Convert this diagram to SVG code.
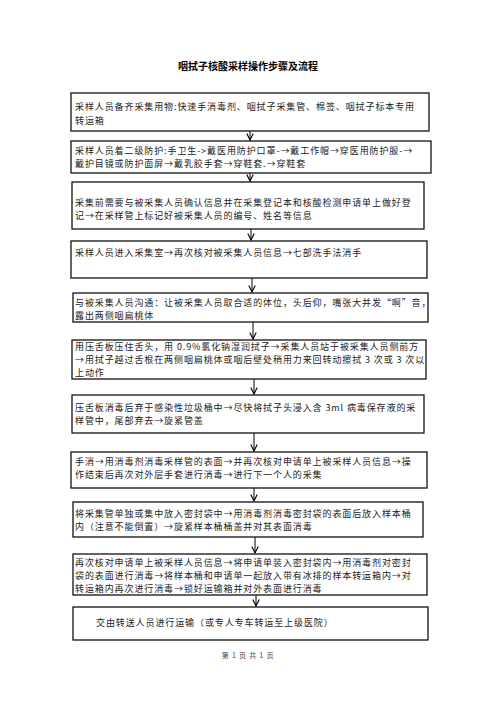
<svg xmlns="http://www.w3.org/2000/svg" width="496" height="702" viewBox="0 0 496 702">
<defs>
<style>
.t{font-family:"Noto Sans CJK SC","Liberation Serif",serif;font-size:9px;letter-spacing:0.9px;fill:#222}
.ttl{font-family:"Noto Sans CJK SC","Liberation Sans",sans-serif;font-size:10px;font-weight:bold;fill:#000}
.ft{font-family:"Noto Sans CJK SC","Liberation Serif",serif;font-size:7px;letter-spacing:0.8px;fill:#444}
.b{fill:#fff;stroke:#111;stroke-width:1.3}
.c{stroke:#000;stroke-width:1;fill:none}
</style>
<marker id="ah" viewBox="0 0 10 10" refX="9" refY="5" markerWidth="8" markerHeight="8" orient="auto" markerUnits="userSpaceOnUse">
<path d="M1,1 L9,5 L1,9" fill="none" stroke="#000" stroke-width="1.4"/>
</marker>
</defs>
<rect width="496" height="702" fill="#fff"/>
<text class="ttl" x="248" y="70" text-anchor="middle">咽拭子核酸采样操作步骤及流程</text>
<g id="connectors">
<line class="c" x1="250" y1="131" x2="250" y2="140" marker-end="url(#ah)"/>
<line class="c" x1="250" y1="173" x2="250" y2="181" marker-end="url(#ah)"/>
<line class="c" x1="251" y1="229" x2="251" y2="240" marker-end="url(#ah)"/>
<line class="c" x1="252" y1="278" x2="252" y2="292" marker-end="url(#ah)"/>
<line class="c" x1="253" y1="322" x2="253" y2="339" marker-end="url(#ah)"/>
<line class="c" x1="254" y1="379" x2="254" y2="394" marker-end="url(#ah)"/>
<line class="c" x1="254" y1="433" x2="254" y2="451" marker-end="url(#ah)"/>
<line class="c" x1="254" y1="488" x2="254" y2="501" marker-end="url(#ah)"/>
<line class="c" x1="255" y1="537" x2="255" y2="553" marker-end="url(#ah)"/>
<line class="c" x1="256" y1="595" x2="256" y2="606" marker-end="url(#ah)"/>
</g>
<g id="n1"><rect class="b" x="71" y="93" width="358" height="38"/>
<text class="t" x="75" y="110">采样人员备齐采集用物:快速手消毒剂、咽拭子采集管、棉签、咽拭子标本专用</text>
<text class="t" x="75" y="124">转运箱</text></g>
<g id="n2"><rect class="b" x="71" y="141" width="360" height="32"/>
<text class="t" x="75" y="154">采样人员着二级防护:手卫生-&gt;戴医用防护口罩-→戴工作帽→穿医用防护服-→</text>
<text class="t" x="75" y="167">戴护目镜或防护面屏→戴乳胶手套→穿鞋套.→穿鞋套</text></g>
<g id="n3"><rect class="b" x="72" y="182" width="352" height="47"/>
<text class="t" x="75" y="206">采集前需要与被采集人员确认信息并在采集登记本和核酸检测申请单上做好登</text>
<text class="t" x="75" y="219">记→在采样管上标记好被采集人员的编号、姓名等信息</text></g>
<g id="n4"><rect class="b" x="71" y="241" width="356" height="37"/>
<text class="t" x="75" y="256">采样人员进入采集室→再次核对被采集人员信息→七部洗手法消手</text></g>
<g id="n5"><rect class="b" x="73" y="293" width="355" height="29"/>
<text class="t" x="75" y="306">与被采集人员沟通：让被采集人员取合适的体位，头后仰，嘴张大并发“啊”音，</text>
<text class="t" x="75" y="319">露出两侧咽扁桃体</text></g>
<g id="n6"><rect class="b" x="72" y="340" width="354" height="39"/>
<text class="t" x="75" y="350">用压舌板压住舌头，用 0.9%氯化钠湿润拭子→采集人员站于被采集人员侧前方</text>
<text class="t" x="75" y="363">→用拭子越过舌根在两侧咽扁桃体或咽后壁处稍用力来回转动擦拭 3 次或 3 次以</text>
<text class="t" x="75" y="376">上动作</text></g>
<g id="n7"><rect class="b" x="72" y="395" width="352" height="38"/>
<text class="t" x="75" y="411">压舌板消毒后弃于感染性垃圾桶中→尽快将拭子头浸入含 3ml 病毒保存液的采</text>
<text class="t" x="75" y="424">样管中，尾部弃去→旋紧管盖</text></g>
<g id="n8"><rect class="b" x="71" y="452" width="356" height="36"/>
<text class="t" x="75" y="465">手消→用消毒剂消毒采样管的表面→并再次核对申请单上被采样人员信息→操</text>
<text class="t" x="75" y="478">作结束后再次对外层手套进行消毒→进行下一个人的采集</text></g>
<g id="n9"><rect class="b" x="73" y="502" width="350" height="35"/>
<text class="t" x="75" y="517">将采集管单独或集中放入密封袋中→用消毒剂消毒密封袋的表面后放入样本桶</text>
<text class="t" x="75" y="530">内（注意不能倒置）→旋紧样本桶桶盖并对其表面消毒</text></g>
<g id="n10"><rect class="b" x="73" y="554" width="354" height="41"/>
<text class="t" x="75" y="566">再次核对申请单上被采样人员信息→将申请单装入密封袋内→用消毒剂对密封</text>
<text class="t" x="75" y="579">袋的表面进行消毒→将样本桶和申请单一起放入带有冰排的样本转运箱内→对</text>
<text class="t" x="75" y="592">转运箱内再次进行消毒→锁好运输箱并对外表面进行消毒</text></g>
<g id="n11"><rect class="b" x="73" y="607" width="355" height="33"/>
<text class="t" x="96" y="626">交由转送人员进行运输（或专人专车转运至上级医院）</text></g>
<text class="ft" x="248" y="658" text-anchor="middle">第 1 页 共 1 页</text>
</svg>
